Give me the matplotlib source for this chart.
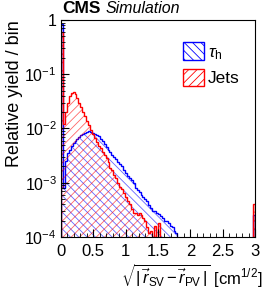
import matplotlib
matplotlib.use("Agg")
import matplotlib.pyplot as plt
import matplotlib.ticker as mticker
from matplotlib.patches import Patch
import numpy as np

plt.rcParams['font.family'] = ['Liberation Sans', 'DejaVu Sans']
plt.rcParams['mathtext.fontset'] = 'custom'
plt.rcParams['mathtext.rm'] = 'Liberation Sans'
plt.rcParams['mathtext.it'] = 'Liberation Sans:italic'
plt.rcParams['hatch.linewidth'] = 0.6

# 100 bins from 0 to 3 (width 0.03)
bin_edges = [round(0.03 * i, 2) for i in range(101)]

tau_h = [0.85, 0.0008, 0.0025, 0.0035, 0.004, 0.0048, 0.0055, 0.006, 0.0065, 0.007,
         0.0075, 0.008, 0.0083, 0.0087, 0.0088, 0.0085, 0.0082, 0.0078, 0.0075, 0.0072,
         0.0065, 0.0058, 0.0052, 0.0045, 0.004, 0.0037, 0.0033, 0.003, 0.0027, 0.0024,
         0.0022, 0.002, 0.0017, 0.0015, 0.0013, 0.0012, 0.0011, 0.001, 0.0008, 0.00072,
         0.00068, 0.0006, 0.00055, 0.0005, 0.00045, 0.00038, 0.00034, 0.0003, 0.0003, 0.00027,
         0.00026, 0.00024, 0.00022, 0.0002, 0.0002, 0.00018, 0.00016, 0.00015, 0.00013, 0.00012,
         0, 0, 0, 0, 0, 0, 0, 0, 0, 0,
         0, 0, 0, 0, 0, 0, 0, 0, 0, 0,
         0, 0, 0, 0, 0, 0, 0, 0, 0, 0,
         0, 0, 0, 0, 0, 0, 0, 0, 0, 0.00025]

jets = [0.6, 0.012, 0.02, 0.03, 0.04, 0.045, 0.047, 0.043, 0.037, 0.03,
        0.025, 0.02, 0.017, 0.014, 0.0115, 0.0095, 0.008, 0.0068, 0.0057, 0.0048,
        0.0043, 0.0037, 0.0032, 0.0028, 0.0024, 0.0019, 0.0017, 0.0014, 0.0012, 0.001,
        0.00085, 0.00075, 0.00065, 0.00055, 0.00045, 0.0004, 0.00032, 0.00028, 0.00028, 0.00025,
        0.00027, 0.00025, 0.00022, 0.0002, 0.00015, 0.00012, 0.00013, 0, 0.00016, 0,
        0.00018, 0, 0, 0, 0, 0, 0, 0, 0, 0,
        0, 0, 0, 0, 0, 0, 0, 0, 0, 0,
        0, 0, 0, 0, 0, 0, 0, 0, 0, 0,
        0, 0, 0, 0, 0, 0, 0, 0, 0, 0,
        0, 0, 0, 0, 0, 0, 0, 0, 0, 0.0004]

fig = plt.figure(figsize=(2.66, 2.91), dpi=100)
ax = fig.add_axes([0.229, 0.186, 0.730, 0.745])

base = 1e-6
for vals, col, hatch in [(tau_h, 'blue', '\\\\\\\\'), (jets, 'red', '////')]:
    v = np.where(np.array(vals) > 0, vals, base)
    ax.stairs(v, bin_edges, baseline=base, fill=True, facecolor='none',
              edgecolor=(*matplotlib.colors.to_rgb(col), 0.6), hatch=hatch, linewidth=0)
    ax.stairs(v, bin_edges, baseline=base, color=col, linewidth=1.0)

ax.set_yscale('log')
ax.set_xlim(0, 3)
ax.set_ylim(1e-4, 1)

ax.yaxis.set_major_locator(mticker.FixedLocator([1e-4, 1e-3, 1e-2, 1e-1, 1]))
ax.yaxis.set_major_formatter(mticker.FixedFormatter(
    [r'$10^{-4}$', r'$10^{-3}$', r'$10^{-2}$', r'$10^{-1}$', '1']))
ax.yaxis.set_minor_locator(mticker.LogLocator(base=10, subs=np.arange(2, 10)))
ax.yaxis.set_minor_formatter(mticker.NullFormatter())
ax.xaxis.set_major_locator(mticker.MultipleLocator(0.5))
ax.xaxis.set_major_formatter(mticker.FuncFormatter(lambda v, p: f'{v:g}'))
ax.xaxis.set_minor_locator(mticker.MultipleLocator(0.1))
ax.tick_params(which='both', direction='in', labelsize=11.5, top=False, right=False)
ax.tick_params(axis='x', labelsize=12, pad=5)
ax.tick_params(axis='y', pad=3)
ax.tick_params(which='major', length=6)
ax.tick_params(which='minor', length=3)
for s in ax.spines.values():
    s.set_linewidth(0.8)

fig.text(0.055, 0.93, 'Relative yield / bin', fontsize=13, rotation=90,
         ha='center', va='top')
fig.text(0.985, 0.008,
         r'$\sqrt{|\,\vec{r}_{\mathrm{SV}}\,\mathrm{-}\,\vec{r}_{\mathrm{PV}}\,|}$ [cm$^{1/2}$]',
         fontsize=12, ha='right', va='bottom')

fig.text(0.233, 0.945, 'CMS', fontsize=12.5, fontweight='bold', va='bottom')
fig.text(0.395, 0.945, 'Simulation', fontsize=11.5, fontstyle='italic', va='bottom')

handles = [Patch(facecolor='none', edgecolor='blue', hatch='\\\\\\\\', linewidth=1.0),
           Patch(facecolor='none', edgecolor='red', hatch='////', linewidth=1.0)]
ax.legend(handles, [r'$\tau_{\mathrm{h}}$', 'Jets'], loc='upper right', frameon=False,
          fontsize=12.5, handlelength=1.2, handleheight=1.2, handletextpad=0.2,
          labelspacing=0.4, bbox_to_anchor=(1.0, 0.97))

fig.savefig('out.png', dpi=100)
